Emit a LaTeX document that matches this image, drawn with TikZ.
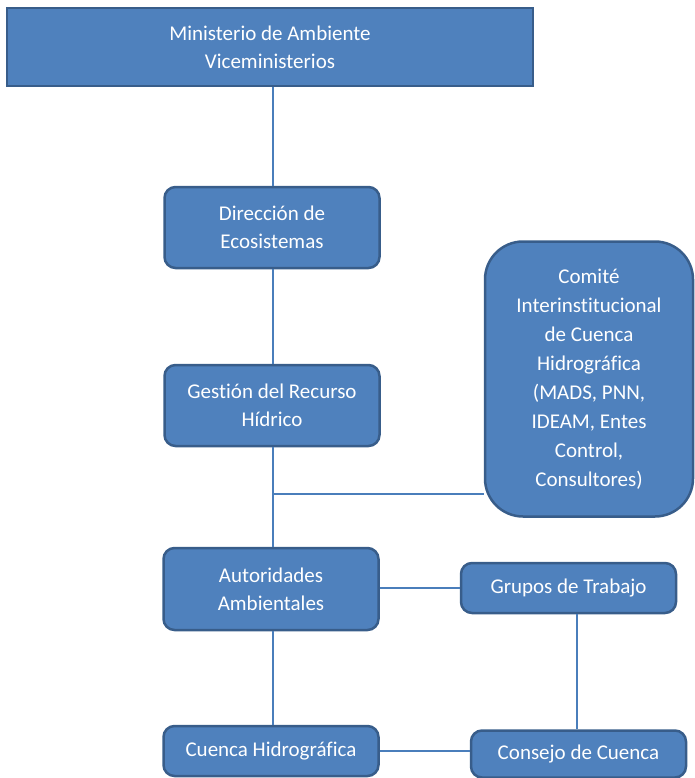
\documentclass[tikz,border=0pt]{standalone}
\usepackage{fontspec}
\setmainfont{Carlito}[Ligatures=NoCommon]
\definecolor{boxfill}{HTML}{4F81BD}
\definecolor{boxedge}{HTML}{385D8A}
\definecolor{linkcol}{HTML}{4A7EBB}
\begin{document}
\begin{tikzpicture}[x=1pt,y=-1pt,
  orgbox/.style={draw=boxedge, fill=boxfill, line width=2.5pt, text=white,
    align=center, inner sep=0pt, font=\fontsize{21}{28}\selectfont,
    rounded corners=11pt, minimum width=215pt},
  link/.style={draw=linkcol, line width=1.3pt}]
\useasboundingbox (0,0) rectangle (694,778);
% column of units
\node[orgbox, rounded corners=0pt, minimum width=526pt, minimum height=78pt]
  (min) at (270,47) {Ministerio de Ambiente\\Viceministerios};
\node[orgbox, minimum height=81pt] (dir) at (272,227.5) {Dirección de\\Ecosistemas};
\node[orgbox, minimum height=81pt] (ges) at (272,405.5) {Gestión del Recurso\\Hídrico};
\node[orgbox, minimum height=82pt] (aut) at (271,589) {Autoridades\\Ambientales};
\node[orgbox, minimum height=50pt] (cue) at (271,751) {Cuenca Hidrográfica};
% side units
\node[orgbox, rounded corners=38pt, minimum width=208pt, minimum height=275pt,
  font=\fontsize{21}{29}\selectfont]
  (com) at (589,379) {Comité\\Interinstitucional\\de Cuenca\\Hidrográfica\\(MADS, PNN,\\IDEAM, Entes\\Control,\\Consultores)};
\node[orgbox, minimum height=50pt] (gru) at (568.5,588) {Grupos de Trabajo};
\node[orgbox, minimum height=47pt] (con) at (578.5,754) {Consejo de Cuenca};
% connectors
\coordinate (j) at (273,494);
\draw[link] (min.south -| 273,0) -- (dir.north -| 273,0);
\draw[link] (dir.south -| 273,0) -- (ges.north -| 273,0);
\draw[link] (ges.south -| 273,0) -- (aut.north -| 273,0);
\draw[link] (aut.south -| 273,0) -- (cue.north -| 273,0);
\draw[link] (j) -- (j -| com.west);
\draw[link] (aut.east |- gru.west) -- (gru.west);
\draw[link] (gru.south -| 577,0) -- (con.north -| 577,0);
\draw[link] (cue.east) -- (cue.east -| con.west);
\end{tikzpicture}
\end{document}
